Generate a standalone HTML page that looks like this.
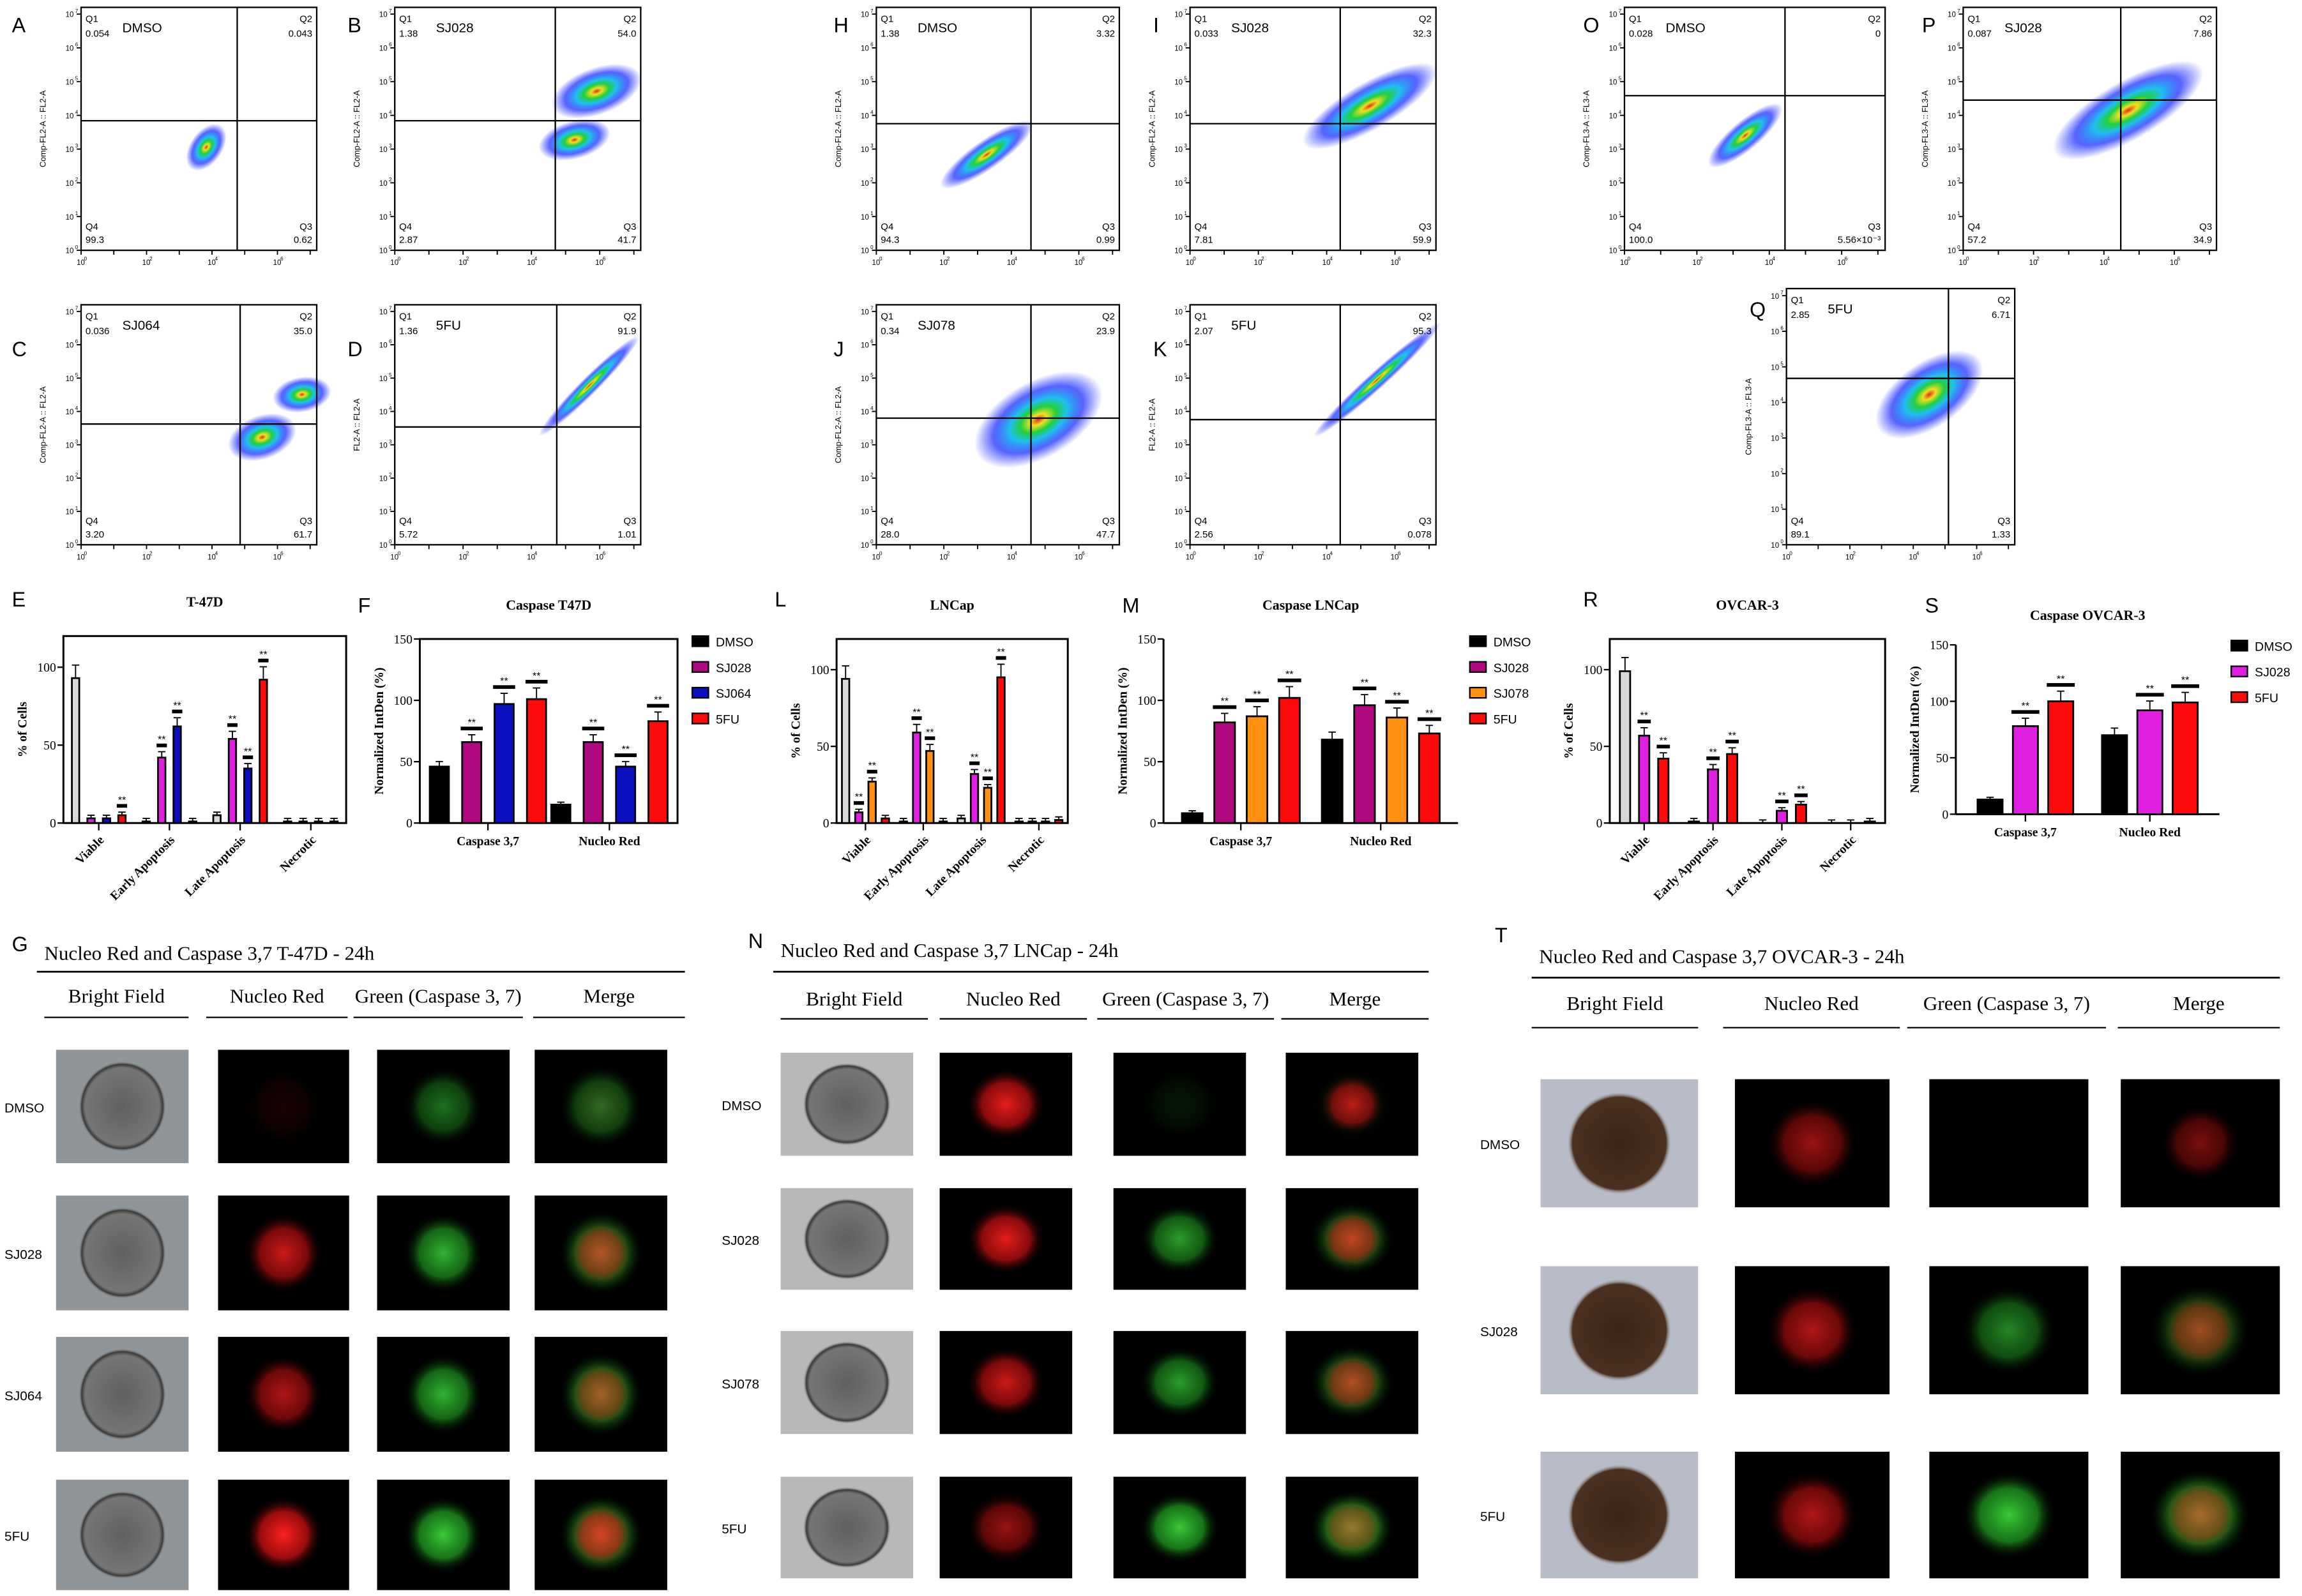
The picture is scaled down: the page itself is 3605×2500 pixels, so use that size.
<!DOCTYPE html>
<html><head><meta charset="utf-8"><style>
html,body{margin:0;padding:0;background:#fff}
svg{display:block}
text{font-family:"Liberation Sans",sans-serif}
.serif{font-family:"Liberation Serif",serif}
</style></head><body>
<svg id="fig" xmlns="http://www.w3.org/2000/svg" width="3605" height="2500" viewBox="0 0 1563 1084">
<defs>
<radialGradient id="gflow"><stop offset="0" stop-color="#e03020"/><stop offset="0.12" stop-color="#f0e020"/><stop offset="0.28" stop-color="#20d040"/><stop offset="0.45" stop-color="#20c0f0"/><stop offset="0.7" stop-color="#2030ff" stop-opacity="0.75"/><stop offset="1" stop-color="#2030ff" stop-opacity="0"/></radialGradient>
<radialGradient id="gbf"><stop offset="0" stop-color="#606060"/><stop offset="0.85" stop-color="#757575"/><stop offset="0.93" stop-color="#3a3a3a"/><stop offset="1" stop-color="#999" stop-opacity="0"/></radialGradient>
<radialGradient id="gbr"><stop offset="0" stop-color="#3a2418"/><stop offset="0.9" stop-color="#4a3020"/><stop offset="1" stop-color="#aaa" stop-opacity="0"/></radialGradient>
<radialGradient id="gred"><stop offset="0" stop-color="#ff2020"/><stop offset="0.6" stop-color="#c01010" stop-opacity="0.8"/><stop offset="1" stop-color="#000" stop-opacity="0"/></radialGradient>
<radialGradient id="ggreen"><stop offset="0" stop-color="#40e040"/><stop offset="0.6" stop-color="#20a020" stop-opacity="0.8"/><stop offset="1" stop-color="#000" stop-opacity="0"/></radialGradient>
</defs>
<g id="root"></g>
</svg>
<script>
const NS="http://www.w3.org/2000/svg";
const root=document.getElementById('root');
function mk(tag,attrs,parent,txt){const e=document.createElementNS(NS,tag);for(const k in attrs)e.setAttribute(k,attrs[k]);if(txt!==undefined)e.textContent=txt;(parent||root).appendChild(e);return e;}

const letters=[["A",8,22],["B",236,22],["C",8,242],["D",236,242],["H",566,22],["I",783,22],["J",566,242],["K",783,242],["O",1075,22],["P",1305,22],["Q",1188,215],["E",8,412],["F",243,416],["L",526,412],["M",762,416],["R",1075,412],["S",1307,416],["G",8,646],["N",508,644],["T",1015,640]];
letters.forEach(l=>{const t=mk('text',{x:l[1],y:l[2],'font-size':14},root,l[0]);

});

const flows=[
 {id:'a',x0:55,y0:5,x1:215,y1:170,vx:161,hy:82,t:'DMSO',q:['0.054','0.043','0.62','99.3'],yl:'Comp-FL2-A :: FL2-A',b:[[140,100,18,11,-55]]},
 {id:'b',x0:268,y0:5,x1:435,y1:170,vx:377,hy:82,t:'SJ028',q:['1.38','54.0','41.7','2.87'],yl:'Comp-FL2-A :: FL2-A',b:[[405,62,32,16,-20],[390,95,25,13,-15]]},
 {id:'c',x0:55,y0:207,x1:215,y1:370,vx:163,hy:288,t:'SJ064',q:['0.036','35.0','61.7','3.20'],yl:'Comp-FL2-A :: FL2-A',b:[[178,297,24,15,-20],[205,268,20,12,-10]]},
 {id:'d',x0:268,y0:207,x1:435,y1:370,vx:378,hy:290,t:'5FU',q:['1.36','91.9','1.01','5.72'],yl:'FL2-A :: FL2-A',b:[[400,262,48,6,-45]]},
 {id:'h',x0:595,y0:5,x1:760,y1:170,vx:700,hy:84,t:'DMSO',q:['1.38','3.32','0.99','94.3'],yl:'Comp-FL2-A :: FL2-A',b:[[670,105,38,10,-35]]},
 {id:'i',x0:808,y0:5,x1:975,y1:170,vx:910,hy:84,t:'SJ028',q:['0.033','32.3','59.9','7.81'],yl:'Comp-FL2-A :: FL2-A',b:[[930,72,52,16,-30]]},
 {id:'j',x0:595,y0:207,x1:760,y1:370,vx:700,hy:284,t:'SJ078',q:['0.34','23.9','47.7','28.0'],yl:'Comp-FL2-A :: FL2-A',b:[[705,285,48,26,-30]]},
 {id:'k',x0:808,y0:207,x1:975,y1:370,vx:910,hy:285,t:'5FU',q:['2.07','95.3','0.078','2.56'],yl:'FL2-A :: FL2-A',b:[[935,258,58,6,-42]]},
 {id:'o',x0:1103,y0:5,x1:1280,y1:170,vx:1212,hy:65,t:'DMSO',q:['0.028','0','5.56×10⁻³','100.0'],yl:'Comp-FL3-A :: FL3-A',b:[[1185,92,32,10,-40]]},
 {id:'p',x0:1333,y0:5,x1:1505,y1:170,vx:1440,hy:68,t:'SJ028',q:['0.087','7.86','34.9','57.2'],yl:'Comp-FL3-A :: FL3-A',b:[[1445,75,58,20,-30]]},
 {id:'q',x0:1213,y0:196,x1:1368,y1:370,vx:1323,hy:257,t:'5FU',q:['2.85','6.71','1.33','89.1'],yl:'Comp-FL3-A :: FL3-A',b:[[1310,268,42,22,-35]]}
];
flows.forEach(f=>{
 const g=mk('g',{});
 
 
 f.b.forEach(b=>{mk('ellipse',{cx:b[0],cy:b[1],rx:b[2],ry:b[3],fill:'url(#gflow)',transform:`rotate(${b[4]} ${b[0]} ${b[1]})`},g);});
 mk('rect',{x:f.x0,y:f.y0,width:f.x1-f.x0,height:f.y1-f.y0,fill:'none',stroke:'#000','stroke-width':1},g);
 mk('line',{x1:f.vx,y1:f.y0,x2:f.vx,y2:f.y1,stroke:'#000','stroke-width':1},g);
 mk('line',{x1:f.x0,y1:f.hy,x2:f.x1,y2:f.hy,stroke:'#000','stroke-width':1},g);
 const fs=6.5;
 mk('text',{x:f.x0+3,y:f.y0+10,'font-size':fs},g,'Q1');
 mk('text',{x:f.x0+3,y:f.y0+20,'font-size':fs},g,f.q[0]);
 mk('text',{x:f.x1-3,y:f.y0+10,'font-size':fs,'text-anchor':'end'},g,'Q2');
 mk('text',{x:f.x1-3,y:f.y0+20,'font-size':fs,'text-anchor':'end'},g,f.q[1]);
 mk('text',{x:f.x1-3,y:f.y1-14,'font-size':fs,'text-anchor':'end'},g,'Q3');
 mk('text',{x:f.x1-3,y:f.y1-5,'font-size':fs,'text-anchor':'end'},g,f.q[2]);
 mk('text',{x:f.x0+3,y:f.y1-14,'font-size':fs},g,'Q4');
 mk('text',{x:f.x0+3,y:f.y1-5,'font-size':fs},g,f.q[3]);
 const tt=mk('text',{x:f.x0+28,y:f.y0+17,'font-size':9},g,f.t);
 
 
 const w=f.x1-f.x0,h=f.y1-f.y0;
 for(let i=0;i<=7;i++){
  const yy=f.y1-h*i/7.2, xx=f.x0+w*i/7.2;
  mk('line',{x1:f.x0-3,y1:yy,x2:f.x0,y2:yy,stroke:'#000','stroke-width':0.8},g);
  mk('text',{x:f.x0-5,y:yy+2,'font-size':5,'text-anchor':'end'},g,'10');
  mk('text',{x:f.x0-4,y:yy-1,'font-size':3.5},g,String(i));
  if(i%2===0){mk('text',{x:xx-3,y:f.y1+10,'font-size':5},g,'10');mk('text',{x:xx+2,y:f.y1+7,'font-size':3.5},g,String(i));}
  mk('line',{x1:xx,y1:f.y1,x2:xx,y2:f.y1+3,stroke:'#000','stroke-width':0.8},g);
 }
 const cy=(f.y0+f.y1)/2;
 mk('text',{x:f.x0-24,y:cy,'font-size':5.5,'text-anchor':'middle',transform:`rotate(-90 ${f.x0-24} ${cy})`},g,f.yl);
});

/* ---------- bar charts data ---------- */
const eCats=["Viable","Early Apoptosis","Late Apoptosis","Necrotic"];
const eSeries=["DMSO","SJ028","SJ064","5FU"];
const eDMSO=[93,1,5,1];
const eSJ028=[3,42,54,1];
const eSJ064=[3,62,35,1];
const e5FU=[5,1,92,1];

const fCats=["Caspase 3,7","Nucleo Red"];
const fSeries=["DMSO","SJ028","SJ064","5FU"];
const fDMSO=[46,15];
const fSJ028=[66,66];
const fSJ064=[97,46];
const f5FU=[101,83];

const lCats=["Viable","Early Apoptosis","Late Apoptosis","Necrotic"];
const lSeries=["DMSO","SJ028","SJ078","5FU"];
const lDMSO=[94,1,3,1];
const lSJ028=[7,59,32,1];
const lSJ078=[27,47,23,1];
const l5FU=[3,1,95,2];

const mCats=["Caspase 3,7","Nucleo Red"];
const mSeries=["DMSO","SJ028","SJ078","5FU"];
const mDMSO=[8,68];
const mSJ028=[82,96];
const mSJ078=[87,86];
const m5FU=[102,73];

const rCats=["Viable","Early Apoptosis","Late Apoptosis","Necrotic"];
const rSeries=["DMSO","SJ028","5FU"];
const rDMSO=[99,1,0,0];
const rSJ028=[57,35,8,0];
const r5FU=[42,45,12,1];

const sCats=["Caspase 3,7","Nucleo Red"];
const sSeries=["DMSO","SJ028","5FU"];
const sDMSO=[13,70];
const sSJ028=[78,92];
const s5FU=[100,99];

const yTicks3=[0,50,100];
const yTicks4=[0,50,100,150];

function drawBars(c){
 const g=mk('g',{});
 
 
 const yS=v=>c.y1-(v/c.ymax)*(c.y1-c.y0);
 const t=mk('text',{x:(c.x0+c.x1)/2,y:c.y0-c.titleGap,'font-size':9.5,'font-weight':'bold','text-anchor':'middle',class:'serif'},g,c.title);
 
 
 if(c.box) mk('rect',{x:c.x0,y:c.y0,width:c.x1-c.x0,height:c.y1-c.y0,fill:'none',stroke:'#000','stroke-width':1.3},g);
 else {mk('line',{x1:c.x0,y1:c.y0,x2:c.x0,y2:c.y1,stroke:'#000','stroke-width':1.3},g);mk('line',{x1:c.x0,y1:c.y1,x2:c.x1,y2:c.y1,stroke:'#000','stroke-width':1.3},g);}
 c.ticks.forEach(v=>{const y=yS(v);mk('line',{x1:c.x0-4,y1:y,x2:c.x0,y2:y,stroke:'#000','stroke-width':1},g);
  mk('text',{x:c.x0-5,y:y+3,'font-size':8.5,'text-anchor':'end',class:'serif'},g,String(v));});
 const ym=(c.y0+c.y1)/2;
 const yl=mk('text',{x:c.x0-25,y:ym,'font-size':8.5,'font-weight':'bold','text-anchor':'middle',class:'serif',transform:`rotate(-90 ${c.x0-25} ${ym})`},g,c.ylab);
 
 
 const n=c.cats.length, gw=(c.x1-c.x0-c.pad*2)/n, ns=c.series.length, bw=c.bw;
 c.cats.forEach((cat,i)=>{
  const cx=c.x0+c.pad+gw*(i+0.5);
  mk('line',{x1:cx,y1:c.y1,x2:cx,y2:c.y1+5,stroke:'#000','stroke-width':1},g);
  if(c.rot){mk('text',{x:cx+4,y:c.y1+12,'font-size':8.5,'font-weight':'bold','text-anchor':'end',class:'serif',transform:`rotate(-45 ${cx+4} ${c.y1+12})`},g,cat);}
  else mk('text',{x:cx,y:c.y1+15,'font-size':8.5,'font-weight':'bold','text-anchor':'middle',class:'serif'},g,cat);
  c.vals.forEach((arr,s)=>{
   const v=arr[i];const bx=cx+(s-(ns-1)/2)*c.step-bw/2;const y=yS(v);
   const r=mk('rect',{x:bx,y:y,width:bw,height:c.y1-y,fill:c.colors[s],stroke:'#000','stroke-width':1.2},g);
   
   
   const err=Math.max(2,v*0.09);
   mk('line',{x1:bx+bw/2,y1:y,x2:bx+bw/2,y2:yS(v+err),stroke:'#000','stroke-width':0.8},g);
   mk('line',{x1:bx+bw/2-2.5,y1:yS(v+err),x2:bx+bw/2+2.5,y2:yS(v+err),stroke:'#000','stroke-width':0.8},g);
   if(s>0&&v>c.ymax*0.03&&c.sig){const sy=yS(v+err)-4;
    mk('rect',{x:bx-1,y:sy-1.5,width:bw+2,height:2.5,fill:'#000'},g);
    mk('text',{x:bx+bw/2,y:sy-2,'font-size':7,'text-anchor':'middle'},g,'**');}
  });
 });
 if(c.legX){c.series.forEach((s,i)=>{const ly=c.legY+i*17.5;
  mk('rect',{x:c.legX,y:ly,width:11,height:7,fill:c.colors[i],stroke:'#000','stroke-width':1},g);
  const lt=mk('text',{x:c.legX+16,y:ly+7,'font-size':8.5},g,s);
  
  });}
}
const MAG='#b0087f',MAG2='#e020e0',BLU='#0a10c0',RED='#ff0a0a',ORA='#ff9010',GRY='#d8d8d8';
drawBars({name:'chart-e',title:'T-47D',x0:43,x1:235,y0:432,y1:559,ymax:120,ticks:yTicks3,ylab:'% of Cells',cats:eCats,series:eSeries,vals:[eDMSO,eSJ028,eSJ064,e5FU],colors:[GRY,MAG2,BLU,RED],pad:0,bw:5,step:10.5,rot:true,box:true,sig:true,titleGap:20});
drawBars({name:'chart-f',title:'Caspase T47D',x0:285,x1:460,y0:434,y1:559,ymax:150,ticks:yTicks4,ylab:'Normalized IntDen (%)',cats:fCats,series:fSeries,vals:[fDMSO,fSJ028,fSJ064,f5FU],colors:['#000',MAG,BLU,RED],pad:5,bw:13,step:22,rot:false,box:true,sig:true,titleGap:20,legX:470,legY:432});
drawBars({name:'chart-l',title:'LNCap',x0:568,x1:725,y0:434,y1:559,ymax:120,ticks:yTicks3,ylab:'% of Cells',cats:lCats,series:lSeries,vals:[lDMSO,lSJ028,lSJ078,l5FU],colors:[GRY,MAG2,ORA,RED],pad:0,bw:5,step:9,rot:true,box:true,sig:true,titleGap:20});
drawBars({name:'chart-m',title:'Caspase LNCap',x0:790,x1:990,y0:434,y1:559,ymax:150,ticks:yTicks4,ylab:'Normalized IntDen (%)',cats:mCats,series:mSeries,vals:[mDMSO,mSJ028,mSJ078,m5FU],colors:['#000',MAG,ORA,RED],pad:5,bw:14,step:22,rot:false,box:false,sig:true,titleGap:20,legX:998,legY:432});
drawBars({name:'chart-r',title:'OVCAR-3',x0:1093,x1:1280,y0:434,y1:559,ymax:120,ticks:yTicks3,ylab:'% of Cells',cats:rCats,series:rSeries,vals:[rDMSO,rSJ028,r5FU],colors:[GRY,MAG2,RED],pad:0,bw:7,step:13,rot:true,box:true,sig:true,titleGap:20});
drawBars({name:'chart-s',title:'Caspase OVCAR-3',x0:1328,x1:1507,y0:438,y1:553,ymax:150,ticks:yTicks4,ylab:'Normalized IntDen (%)',cats:sCats,series:sSeries,vals:[sDMSO,sSJ028,s5FU],colors:['#000',MAG2,RED],pad:5,bw:17,step:24,rot:false,box:false,sig:true,titleGap:17,legX:1515,legY:435});

const microTitles=["Nucleo Red and Caspase 3,7 T-47D  - 24h","Nucleo Red and Caspase 3,7 LNCap - 24h","Nucleo Red and Caspase 3,7 OVCAR-3 - 24h"];
const micro=[
 {id:'g',tx:30,ty:652,lx0:25,lx1:465,ly:660,hy:681,huy:691,cols:[[38,128],[148,237],[256,346],[363,453]],heads:["Bright Field","Nucleo Red","Green (Caspase 3, 7)","Merge"],hx:[[30,128],[140,236],[240,355],[362,465]],rows:[[713,790],[812,890],[908,986],[1005,1080]],labels:["DMSO","SJ028","SJ064","5FU"],lx:3,red:[0.1,0.8,0.7,1],grn:[0.5,0.8,0.8,0.9],bf:'url(#gbf)',bg:'#8f9598'},
 {id:'n',tx:530,ty:650,lx0:525,lx1:970,ly:660,hy:683,huy:692,cols:[[530,620],[638,728],[756,846],[873,963]],heads:["Bright Field","Nucleo Red","Green (Caspase 3, 7)","Merge"],hx:[[530,630],[638,738],[745,865],[870,970]],rows:[[715,785],[807,876],[904,974],[1003,1072]],labels:["DMSO","SJ028","SJ078","5FU"],lx:490,red:[0.9,0.9,0.8,0.6],grn:[0.1,0.7,0.7,0.9],bf:'url(#gbf)',bg:'#b8b8b8'},
 {id:'t',tx:1045,ty:654,lx0:1040,lx1:1548,ly:664,hy:686,huy:698,cols:[[1046,1153],[1178,1283],[1310,1418],[1440,1548]],heads:["Bright Field","Nucleo Red","Green (Caspase 3, 7)","Merge"],hx:[[1040,1153],[1170,1290],[1295,1430],[1438,1548]],rows:[[733,820],[860,947],[986,1072]],labels:["DMSO","SJ028","5FU"],lx:1005,red:[0.6,0.7,0.7],grn:[0.0,0.6,0.9],bf:'url(#gbr)',bg:'#b8bcc8'}
];
micro.forEach((m,mi)=>{
 const g=mk('g',{});
 
 
 mk('text',{x:m.tx,y:m.ty,'font-size':13.5,class:'serif'},g,microTitles[mi]);
 mk('line',{x1:m.lx0,y1:m.ly,x2:m.lx1,y2:m.ly,stroke:'#000','stroke-width':1.2},g);
 m.heads.forEach((h,i)=>{const hx=m.hx[i];
  mk('text',{x:(hx[0]+hx[1])/2,y:m.hy,'font-size':13.5,'text-anchor':'middle',class:'serif'},g,h);
  mk('line',{x1:hx[0],y1:m.huy,x2:hx[1],y2:m.huy,stroke:'#000','stroke-width':1},g);});
 m.rows.forEach((r,ri)=>{
  mk('text',{x:m.lx,y:(r[0]+r[1])/2+4,'font-size':9},g,m.labels[ri]);
  m.cols.forEach((c,ci)=>{
   const w=c[1]-c[0],h=r[1]-r[0],cx=(c[0]+c[1])/2,cy=(r[0]+r[1])/2;
   const im=mk('g',{},g);
   
   
   if(ci===0){mk('rect',{x:c[0],y:r[0],width:w,height:h,fill:m.bg},im);
    mk('ellipse',{cx:cx,cy:cy,rx:w*0.33,ry:h*0.4,fill:m.bf},im);}
   else{mk('rect',{x:c[0],y:r[0],width:w,height:h,fill:'#000'},im);
    const rr=m.red[ri],gg=m.grn[ri];
    if(ci===1){mk('ellipse',{cx:cx,cy:cy,rx:w*0.3,ry:h*0.35,fill:'url(#gred)','fill-opacity':rr},im);}
    else if(ci===2){mk('ellipse',{cx:cx,cy:cy,rx:w*0.3,ry:h*0.35,fill:'url(#ggreen)','fill-opacity':gg},im);}
    else{mk('ellipse',{cx:cx,cy:cy,rx:w*0.32,ry:h*0.37,fill:'url(#ggreen)','fill-opacity':gg},im);
     mk('ellipse',{cx:cx,cy:cy,rx:w*0.25,ry:h*0.3,fill:'url(#gred)','fill-opacity':rr*0.8},im);}
   }
  });
 });
});
</script>
</body></html>
